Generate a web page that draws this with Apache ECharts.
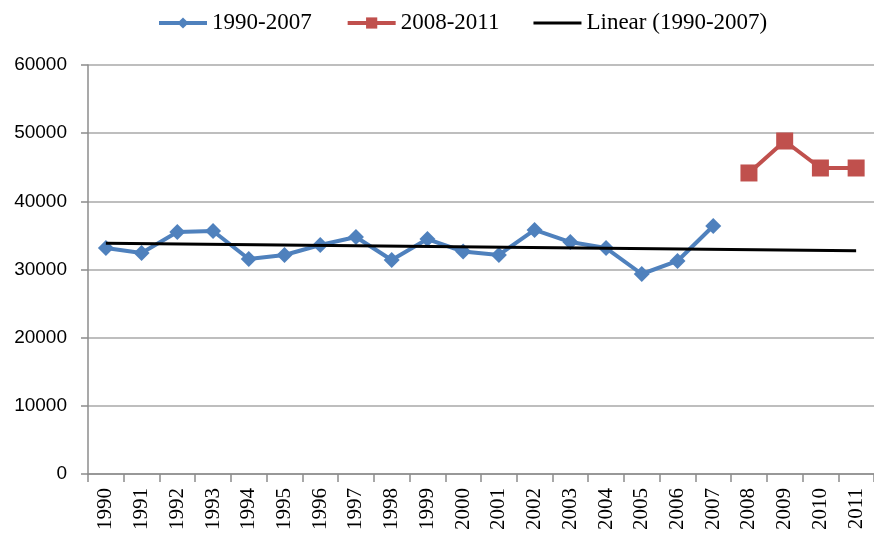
<!DOCTYPE html>
<html>
<head>
<meta charset="utf-8">
<script src="https://cdn.jsdelivr.net/npm/echarts@6/dist/echarts.min.js"></script>
<style>
html,body{margin:0;padding:0;background:#fff;}
#chart{width:874px;height:535px;}
</style>
</head>
<body>
<div id="chart"></div>
<script>
var years = ['1990','1991','1992','1993','1994','1995','1996','1997','1998','1999','2000','2001','2002','2003','2004','2005','2006','2007','2008','2009','2010','2011'];
var series1990_2007 = [33150, 32420, 35500, 35650, 31540, 32130, 33600, 34770, 31390, 34470, 32640, 32130, 35800, 34030, 33150, 29340, 31250, 36380];
var series2008_2011 = [44160, 48850, 44890, 44890];
var trendEnds = [33840, 32760];
var yTicks = [0, 10000, 20000, 30000, 40000, 50000, 60000];

var redData = years.map(function (y, i) {
  var k = i - series1990_2007.length;
  return k >= 0 ? series2008_2011[k] : null;
});
var trendData = [[years[0], trendEnds[0]], [years[years.length - 1], trendEnds[1]]];

var chart = echarts.init(document.getElementById('chart'));
chart.setOption({
  animation: false,
  backgroundColor: '#fff',
  legend: {
    left: 152,
    top: 6,
    itemWidth: 48,
    itemHeight: 14,
    itemGap: 34,
    lineStyle: { width: 4 },
    textStyle: { fontFamily: 'Liberation Serif', fontSize: 23, color: '#000', lineHeight: 24 },
    data: [
      { name: '1990-2007' },
      { name: '2008-2011' },
      { name: 'Linear (1990-2007)', icon: 'path://M0,5.5 L48,5.5 L48,8.5 L0,8.5 Z M0,0 L0,0.001 Z M48,14 L48,13.999 Z', itemStyle: { color: '#000' } }
    ]
  },
  grid: { left: 88, right: -9, top: 65, bottom: 61, containLabel: false },
  xAxis: {
    type: 'category',
    data: years,
    boundaryGap: true,
    axisLine: { lineStyle: { color: '#8c8c8c', width: 1.5 } },
    axisTick: { show: true, length: 8, alignWithLabel: false, lineStyle: { color: '#8c8c8c', width: 1.5 } },
    axisLabel: { rotate: 90, margin: 14, fontFamily: 'Liberation Serif', fontSize: 21, color: '#000', interval: 0 }
  },
  yAxis: {
    type: 'value',
    min: yTicks[0],
    max: yTicks[yTicks.length - 1],
    interval: 10000,
    axisLine: { show: true, lineStyle: { color: '#8c8c8c', width: 1.5 } },
    axisTick: { show: true, length: 7, lineStyle: { color: '#8c8c8c', width: 1.5 } },
    axisLabel: {
      margin: 21, fontFamily: 'Liberation Sans', fontSize: 19, color: '#000',
      formatter: function (v) { return String(v); }
    },
    splitLine: { show: true, lineStyle: { color: '#a8a8a8', width: 1.5 } }
  },
  series: [
    {
      name: '1990-2007',
      type: 'line',
      data: series1990_2007,
      symbol: 'diamond',
      symbolSize: 16,
      lineStyle: { color: '#4f81bd', width: 4 },
      itemStyle: { color: '#4f81bd' },
      z: 3
    },
    {
      name: '2008-2011',
      type: 'line',
      data: redData,
      symbol: 'rect',
      symbolSize: 17,
      lineStyle: { color: '#c0504d', width: 4 },
      itemStyle: { color: '#c0504d' },
      z: 3
    },
    {
      name: 'Linear (1990-2007)',
      type: 'line',
      data: trendData,
      symbol: 'none',
      lineStyle: { color: '#000', width: 3 },
      itemStyle: { color: '#000' },
      z: 4
    }
  ]
});
</script>
</body>
</html>
